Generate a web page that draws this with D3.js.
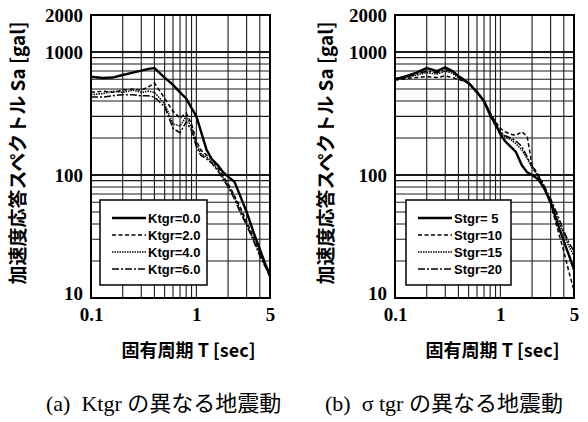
<!DOCTYPE html>
<html>
<head>
<meta charset="utf-8">
<script src="https://cdn.jsdelivr.net/npm/d3@7"></script>
<style>
body { margin: 0; background: #fff; }
text { white-space: pre; }
</style>
</head>
<body>
<div id="container"></div>
<script>
var WIDTH = 588,
	HEIGHT = 422,
	PLOT_TOP = 15,
	PLOT_BOTTOM = 298;

// periods T [sec] shared by every series
var periods = [0.1, 0.13, 0.16, 0.2, 0.25, 0.3, 0.35, 0.4, 0.5, 0.6, 0.7, 0.8, 0.9, 1.0, 1.1, 1.25, 1.4, 1.6, 1.8, 2.0, 2.3, 2.6, 3.0, 3.5, 4.0, 4.5, 5.0];

// (a) Ktgr
var ktgrLabels = ['Ktgr=0.0', 'Ktgr=2.0', 'Ktgr=4.0', 'Ktgr=6.0'];
var ktgr0 = [630, 615, 620, 650, 680, 705, 730, 740, 620, 540, 470, 420, 350, 300, 230, 160, 135, 120, 105, 97, 88, 68, 50, 34, 25, 19, 15];
var ktgr2 = [470, 480, 470, 490, 500, 490, 520, 560, 420, 330, 290, 320, 260, 190, 160, 145, 135, 115, 98, 85, 68, 55, 42, 31, 24, 19, 16];
var ktgr4 = [450, 460, 480, 470, 490, 470, 480, 470, 380, 260, 250, 300, 240, 180, 150, 140, 128, 110, 95, 82, 66, 52, 40, 30, 23, 18, 16];
var ktgr6 = [430, 430, 440, 450, 450, 440, 440, 430, 360, 240, 220, 270, 230, 170, 145, 135, 125, 108, 92, 80, 64, 50, 39, 29, 22, 18, 15];

// (b) sigma tgr
var stgrLabels = ['Stgr= 5', 'Stgr=10', 'Stgr=15', 'Stgr=20'];
var stgr5 = [600, 640, 680, 740, 700, 750, 700, 640, 560, 470, 400, 310, 260, 215, 190, 170, 155, 120, 105, 100, 92, 78, 60, 40, 29, 22, 17];
var stgr10 = [590, 610, 620, 630, 620, 640, 620, 600, 560, 480, 400, 320, 270, 240, 225, 215, 210, 225, 205, 120, 100, 80, 58, 36, 24, 16, 11.5];
var stgr15 = [600, 620, 650, 680, 660, 700, 670, 620, 550, 470, 390, 300, 250, 220, 205, 195, 180, 160, 135, 115, 97, 80, 62, 44, 33, 26, 22];
var stgr20 = [610, 630, 660, 700, 680, 720, 690, 630, 560, 480, 400, 310, 255, 225, 210, 200, 190, 170, 140, 118, 98, 82, 64, 47, 35, 28, 24];

var yTicks = [10, 100, 1000, 2000];
var xTicks = [0.1, 1, 5];
var yGrid = [20, 30, 40, 50, 60, 70, 80, 90, 100, 200, 300, 400, 500, 600, 700, 800, 900, 1000];
var xGrid = [0.2, 0.3, 0.4, 0.5, 0.6, 0.7, 0.8, 0.9, 1, 2, 3, 4];

var lineStyles = [
	{ width: 2.4, dash: null },
	{ width: 1.5, dash: '4,2.5' },
	{ width: 1.5, dash: '1.5,1' },
	{ width: 1.5, dash: '7,2,2,2' }
];

var JP_SANS = '"Noto Sans CJK JP", "Liberation Sans", sans-serif';
var SERIF = '"Liberation Serif", "Noto Sans CJK JP", serif';

var translate = function (x, y) {
	return 'translate(' + x + ',' + y + ')';
};

function drawPanel(svg, panel) {
	var xScale = d3.scaleLog().domain([0.1, 5]).range([panel.left, panel.left + 179]);
	var yScale = d3.scaleLog().domain([10, 2000]).range([PLOT_BOTTOM, PLOT_TOP]);
	var g = svg.append('g');

	// grid
	g.selectAll('line.hgrid').data(yGrid).enter()
		.append('line')
		.attr('x1', xScale(0.1)).attr('x2', xScale(5))
		.attr('y1', function(d){return yScale(d)}).attr('y2', function(d){return yScale(d)})
		.attr('stroke', '#1a1a1a')
		.attr('stroke-width', function(d){return (d === 100 || d === 1000) ? 1.8 : 1.1});
	g.selectAll('line.vgrid').data(xGrid).enter()
		.append('line')
		.attr('y1', yScale(10)).attr('y2', yScale(2000))
		.attr('x1', function(d){return xScale(d)}).attr('x2', function(d){return xScale(d)})
		.attr('stroke', '#1a1a1a')
		.attr('stroke-width', 1.1);

	// curves
	var line = d3.line()
		.x(function(d){return xScale(d.t)})
		.y(function(d){return yScale(d.v)});
	panel.series.forEach(function(values, i) {
		var pts = periods.map(function(t, j){return {t: t, v: values[j]}});
		g.append('path')
			.attr('d', line(pts))
			.attr('fill', 'none')
			.attr('stroke', '#000')
			.attr('stroke-width', lineStyles[i].width)
			.attr('stroke-dasharray', lineStyles[i].dash);
	});

	// legend
	var lg = g.append('g').attr('transform', translate(panel.legend.x, panel.legend.y));
	lg.append('rect')
		.attr('width', panel.legend.w).attr('height', 85)
		.attr('fill', '#fff').attr('stroke', '#000').attr('stroke-width', 1.5);
	panel.labels.forEach(function(label, i) {
		var ly = 18 + i * 17;
		lg.append('line')
			.attr('x1', 12).attr('x2', 46)
			.attr('y1', ly).attr('y2', ly)
			.attr('stroke', '#000')
			.attr('stroke-width', lineStyles[i].width)
			.attr('stroke-dasharray', lineStyles[i].dash);
		lg.append('text')
			.attr('x', 48).attr('y', ly + 5)
			.attr('font-family', '"Liberation Sans", Arial, sans-serif')
			.attr('font-weight', 'bold')
			.attr('font-size', 13)
			.text(label);
	});

	// frame
	g.append('rect')
		.attr('x', xScale(0.1)).attr('y', PLOT_TOP)
		.attr('width', xScale(5) - xScale(0.1)).attr('height', PLOT_BOTTOM - PLOT_TOP)
		.attr('fill', 'none').attr('stroke', '#000').attr('stroke-width', 2);

	// axes (labels only)
	var yAxis = d3.axisLeft(yScale).tickValues(yTicks).tickSize(0).tickPadding(8).tickFormat(d3.format('d'));
	var ya = g.append('g').attr('transform', translate(xScale(0.1), 0)).call(yAxis);
	var xAxis = d3.axisBottom(xScale).tickValues(xTicks).tickSize(0).tickPadding(10).tickFormat(function(d){return String(d)});
	var xa = g.append('g').attr('transform', translate(0, PLOT_BOTTOM)).call(xAxis);
	[ya, xa].forEach(function(a) {
		a.select('.domain').remove();
		a.selectAll('text')
			.attr('font-family', SERIF)
			.attr('font-size', 19)
			.attr('font-weight', 'bold')
			.attr('fill', '#000');
	});
	ya.selectAll('.tick').filter(function(d){return d === 10}).select('text').attr('dy', '0.1em');

	// titles
	g.append('text')
		.attr('transform', translate(panel.yTitleX, 153) + ' rotate(-90)')
		.attr('text-anchor', 'middle')
		.attr('dy', '0.35em')
		.attr('font-family', JP_SANS)
		.attr('font-weight', 'bold')
		.attr('font-size', 19)
		.text('加速度応答スペクトル Sa [gal]');
	g.append('text')
		.attr('x', (xScale(0.1) + xScale(5)) / 2 + 8).attr('y', 357)
		.attr('text-anchor', 'middle')
		.attr('font-family', JP_SANS)
		.attr('font-weight', 'bold')
		.attr('font-size', 18)
		.text('固有周期 T [sec]');
	g.append('text')
		.attr('x', panel.captionX).attr('y', 411)
		.attr('font-family', SERIF)
		.attr('font-size', 22)
		.text(panel.caption);
}

function drawChart() {
	var svg = d3.select('#container')
		.append('svg')
		.attr('width', WIDTH)
		.attr('height', HEIGHT);
	drawPanel(svg, {
		left: 91, yTitleX: 18,
		series: [ktgr0, ktgr2, ktgr4, ktgr6],
		labels: ktgrLabels,
		legend: { x: 100, y: 200, w: 107 },
		caption: '(a)  Ktgr の異なる地震動', captionX: 46
	});
	drawPanel(svg, {
		left: 395, yTitleX: 326,
		series: [stgr5, stgr10, stgr15, stgr20],
		labels: stgrLabels,
		legend: { x: 406, y: 200, w: 105 },
		caption: '(b)  σ tgr の異なる地震動', captionX: 325
	});
}

window.onload = function(){
	drawChart();
};
</script>
</body>
</html>
